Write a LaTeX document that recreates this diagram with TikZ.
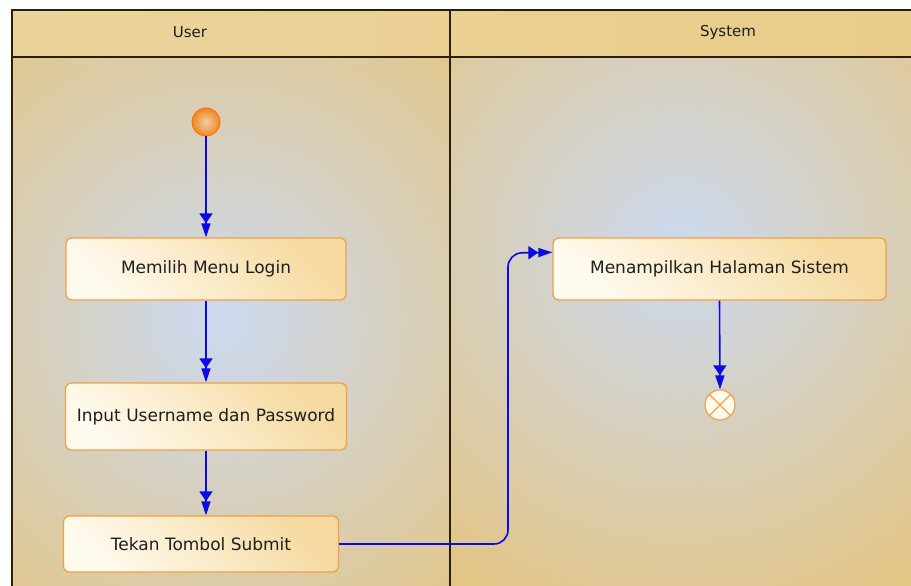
\documentclass[tikz,border=0pt]{standalone}
\usepackage{fontspec}
\setmainfont{DejaVu Sans}
\usetikzlibrary{arrows.meta,calc}
\definecolor{tan}{RGB}{227,197,132}
\definecolor{tanhead}{RGB}{232,204,138}
\definecolor{glow}{RGB}{204,217,240}
\definecolor{frame}{RGB}{45,30,12}
\definecolor{boxedge}{RGB}{240,160,70}
\definecolor{boxlight}{RGB}{255,250,238}
\definecolor{boxdark}{RGB}{245,218,160}
\definecolor{flow}{RGB}{10,10,225}
\definecolor{txt}{RGB}{30,30,30}
\tikzset{
  action/.style={draw=boxedge, line width=1.3pt, rounded corners=6pt,
    left color=boxlight, right color=boxdark, shading angle=135,
    minimum height=62pt, inner sep=0pt, text=txt,
    font=\fontsize{17}{20}\selectfont},
  flowline/.style={draw=flow, line width=1.6pt,
    -{Triangle[width=13pt,length=10pt]Triangle[width=9pt,length=14pt]}},
  lanehead/.style={text=txt, font=\fontsize{15}{17}\selectfont},
  frameline/.style={draw=frame, line width=1.6pt}
}
\begin{document}
\begin{tikzpicture}[x=1pt,y=-1pt]
\useasboundingbox (0,0) rectangle (911,586);
\fill[white] (0,0) rectangle (911,586);
% lanes background
\fill[tan] (12,57) rectangle (911,586);
\begin{scope}
  \clip (12,57) rectangle (450,586);
  \shade[inner color=glow, outer color=tan] (220,320) circle (390);
\end{scope}
\begin{scope}
  \clip (450,57) rectangle (911,586);
  \shade[inner color=glow, outer color=tan] (680,250) circle (400);
\end{scope}
\shade[left color=tanhead!85!white, right color=tanhead] (12,10) rectangle (911,57);
% frame
\draw[frameline] (911,10) -- (12,10) -- (12,586);
\draw[frameline] (12,57) -- (911,57);
\draw[frameline] (450,10) -- (450,586);
\node[lanehead] (hUser) at (190,32) {User};
\node[lanehead] (hSystem) at (728,32) {System};
% start
\node[circle, minimum size=28pt, inner sep=0pt, draw=orange!85!red, line width=0.8pt,
  inner color={rgb,255:red,240;green,205;blue,170}, outer color={rgb,255:red,240;green,135;blue,30}] (start) at (206,122) {};
% actions
\node[action, minimum width=280pt, minimum height=62pt] (login) at (206,269) {Memilih Menu Login};
\node[action, minimum width=281pt, minimum height=67pt] (creds) at (206,416.5) {Input Username dan Password};
\node[action, minimum width=275pt, minimum height=56pt] (submit) at (201,544) {Tekan Tombol Submit};
\node[action, minimum width=333pt, minimum height=62pt] (sistem) at (719.5,269) {Menampilkan Halaman Sistem};
% end
\node[circle, minimum size=30pt, inner sep=0pt, draw=boxedge, line width=1.2pt, fill=boxlight] (end) at (720,405) {};
\draw[boxedge, line width=1.2pt] (end.north east) -- (end.south west) (end.north west) -- (end.south east);
% connectors
\draw[flowline] (start.south) -- (login.north);
\draw[flowline] (login.south) -- (creds.north);
\coordinate (subtop) at (creds.south |- submit.north);
\draw[flowline] (creds.south) -- (subtop);
\coordinate (entry) at ($(sistem.north west)+(0,15)$);
\draw[flowline, rounded corners=14pt] (submit.east) -- (508,544) -- (508,253) -- (entry);
\draw[flowline] (sistem.south) -- (end.north);
\end{tikzpicture}
\end{document}
